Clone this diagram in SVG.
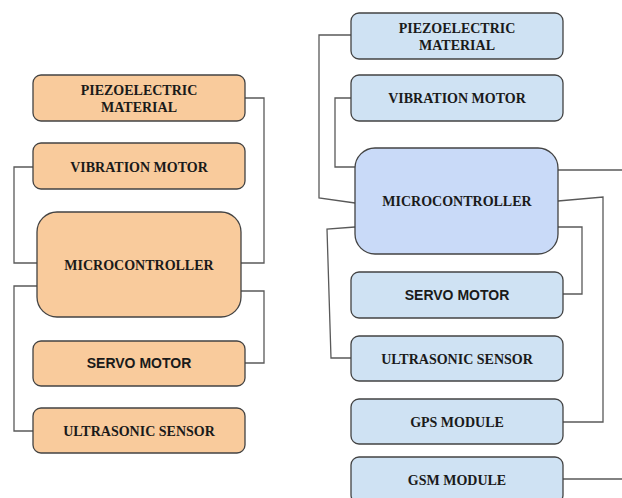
<svg xmlns="http://www.w3.org/2000/svg" width="622" height="498" viewBox="0 0 622 498">
<style>
.bg{fill:#ffffff}
.o{fill:#f9cb9c;stroke:#434343;stroke-width:1.3}
.b{fill:#cfe2f3;stroke:#434343;stroke-width:1.3}
.m{fill:#c9daf8;stroke:#434343;stroke-width:1.3}
.c{fill:none;stroke:#595959;stroke-width:1.3}
.t{font-family:"Liberation Serif","Times New Roman",serif;font-weight:bold;font-size:14px;fill:#1a1a1a;text-anchor:middle}
.s{font-family:"Liberation Sans",Arial,sans-serif;font-weight:bold;font-size:14px;fill:#1a1a1a;text-anchor:middle}
</style>
<rect class="bg" x="0" y="0" width="622" height="498"/>
<g id="connectors">
<polyline class="c" points="245,98 264,98 264,263 241,263"/>
<polyline class="c" points="33,167 14,167 14,263 37,263"/>
<polyline class="c" points="37,286 14,286 14,431 33,431"/>
<polyline class="c" points="241,291 264,291 264,363 245,363"/>
<polyline class="c" points="351,35 319,35 319,198 355,203"/>
<polyline class="c" points="351,98 335,98 335,167 355,167"/>
<polyline class="c" points="558,170 622,170"/>
<polyline class="c" points="558,201 603,197 603,422 563,422"/>
<polyline class="c" points="558,227 582,227 582,294 563,294"/>
<polyline class="c" points="355,227 327,229 331,358 351,358"/>
<polyline class="c" points="563,479 622,479"/>
</g>
<g id="l-piezo"><rect class="o" x="33" y="75" width="212" height="46" rx="8"/><text class="t" x="139" y="95">PIEZOELECTRIC</text><text class="t" x="139" y="112">MATERIAL</text></g>
<g id="l-vibration"><rect class="o" x="33" y="143" width="212" height="46" rx="8"/><text class="t" x="139" y="172">VIBRATION MOTOR</text></g>
<g id="l-micro"><rect class="o" x="37" y="212" width="204" height="105" rx="20"/><text class="t" x="139" y="270">MICROCONTROLLER</text></g>
<g id="l-servo"><rect class="o" x="33" y="341" width="212" height="45" rx="8"/><text class="s" x="139" y="368">SERVO MOTOR</text></g>
<g id="l-ultrasonic"><rect class="o" x="33" y="408" width="212" height="45" rx="8"/><text class="t" x="139" y="436">ULTRASONIC SENSOR</text></g>
<g id="r-piezo"><rect class="b" x="351" y="13" width="212" height="46" rx="8"/><text class="t" x="457" y="33">PIEZOELECTRIC</text><text class="t" x="457" y="50">MATERIAL</text></g>
<g id="r-vibration"><rect class="b" x="351" y="75" width="212" height="46" rx="8"/><text class="t" x="457" y="103">VIBRATION MOTOR</text></g>
<g id="r-micro"><rect class="m" x="355" y="148" width="203" height="106" rx="20"/><text class="t" x="457" y="206">MICROCONTROLLER</text></g>
<g id="r-servo"><rect class="b" x="351" y="272" width="212" height="46" rx="8"/><text class="s" x="457" y="300">SERVO MOTOR</text></g>
<g id="r-ultrasonic"><rect class="b" x="351" y="336" width="212" height="45" rx="8"/><text class="t" x="457" y="364">ULTRASONIC SENSOR</text></g>
<g id="r-gps"><rect class="b" x="351" y="399" width="212" height="45" rx="8"/><text class="t" x="457" y="427">GPS MODULE</text></g>
<g id="r-gsm"><rect class="b" x="351" y="457" width="212" height="46" rx="8"/><text class="t" x="457" y="485">GSM MODULE</text></g>
</svg>
